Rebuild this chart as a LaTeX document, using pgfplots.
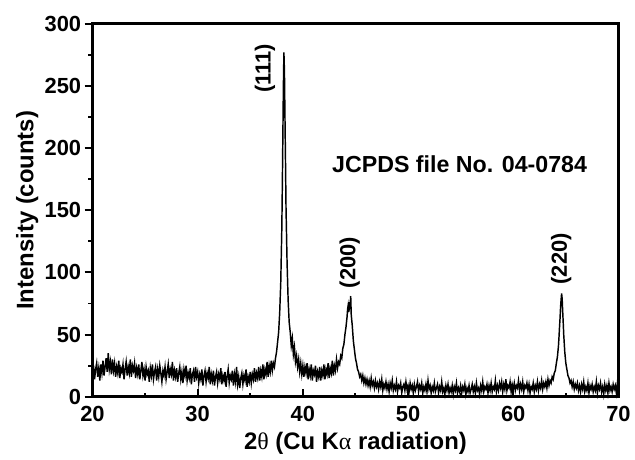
\documentclass[border=0pt]{standalone}
\usepackage{fontspec}
\setmainfont{Liberation Sans}
\newfontfamily\grk{Liberation Serif}
\usepackage{pgfplots}
\pgfplotsset{compat=1.18}

\begin{document}
\begin{tikzpicture}
\begin{axis}[
    scale only axis,
    width=396.75pt, height=281.25pt,
    xmin=20, xmax=70, ymin=0, ymax=300,
    xtick={20,30,...,70}, ytick={0,50,...,300},
    minor x tick num=1, minor y tick num=1,
    xtick pos=bottom, ytick pos=left,
    tick align=inside,
    major tick length=6pt, minor tick length=3pt,
    tick style={black, line width=1.5pt},
    major y tick style={xshift=-6pt},
    minor y tick style={xshift=-3pt},
    axis line style={line width=2.25pt},
    /pgf/number format/assume math mode=true,
    ticklabel style={font=\fontsize{16.5}{18}\selectfont\bfseries},
    yticklabel style={xshift=-5pt},
    xticklabel style={yshift=-4pt},
    xlabel={\bfseries 2{\grk\mdseries θ} (Cu K{\grk\mdseries α} radiation)},
    ylabel={\bfseries Intensity (counts)},
    label style={font=\fontsize{18}{20}\selectfont},
    xlabel style={yshift=-1pt},
    ylabel style={yshift=-2pt},
    clip=false,
]
\addplot[black, line width=1.1pt, mark=none] coordinates {
(20.0,18)(20.1,25)(20.2,14)(20.3,22)(20.4,27)(20.5,16)(20.6,23)(20.7,13)(20.8,26)(20.9,19)
(21.0,29)(21.1,17)(21.2,24)(21.3,31)(21.4,20)(21.5,35)(21.6,22)(21.7,28)(21.8,18)(21.9,30)
(22.0,21)(22.1,27)(22.2,16)(22.3,24)(22.4,19)(22.5,29)(22.6,15)(22.7,23)(22.8,20)(22.9,26)
(23.0,14)(23.1,22)(23.2,28)(23.3,17)(23.4,24)(23.5,19)(23.6,30)(23.7,16)(23.8,25)(23.9,21)
(24.0,27)(24.1,15)(24.2,23)(24.3,18)(24.4,26)(24.5,14)(24.6,21)(24.7,28)(24.8,17)(24.9,22)
(25.0,13)(25.1,24)(25.2,18)(25.3,21)(25.4,12)(25.5,23)(25.6,17)(25.7,26)(25.8,14)(25.9,20)
(26.0,24)(26.1,13)(26.2,22)(26.3,16)(26.4,25)(26.5,19)(26.6,12)(26.7,21)(26.8,17)(26.9,24)
(27.0,14)(27.1,20)(27.2,26)(27.3,15)(27.4,22)(27.5,18)(27.6,28)(27.7,13)(27.8,21)(27.9,16)
(28.0,23)(28.1,12)(28.2,19)(28.3,24)(28.4,14)(28.5,20)(28.6,11)(28.7,22)(28.8,17)(28.9,25)
(29.0,13)(29.1,19)(29.2,15)(29.3,23)(29.4,10)(29.5,18)(29.6,21)(29.7,12)(29.8,24)(29.9,16)
(30.0,20)(30.1,11)(30.2,18)(30.3,14)(30.4,22)(30.5,9)(30.6,17)(30.7,21)(30.8,12)(30.9,19)
(31.0,15)(31.1,24)(31.2,10)(31.3,18)(31.4,13)(31.5,21)(31.6,9)(31.7,16)(31.8,20)(31.9,11)
(32.0,18)(32.1,14)(32.2,23)(32.3,10)(32.4,17)(32.5,13)(32.6,20)(32.7,8)(32.8,16)(32.9,22)
(33.0,11)(33.1,17)(33.2,14)(33.3,21)(33.4,9)(33.5,18)(33.6,12)(33.7,24)(33.8,10)(33.9,16)
(34.0,7)(34.1,15)(34.2,19)(34.3,10)(34.4,17)(34.5,13)(34.6,22)(34.7,8)(34.8,16)(34.9,12)
(35.0,20)(35.1,11)(35.2,18)(35.3,14)(35.4,23)(35.5,12)(35.6,19)(35.7,15)(35.8,24)(35.9,13)
(36.0,21)(36.1,16)(36.2,26)(36.3,14)(36.4,22)(36.5,18)(36.6,28)(36.7,16)(36.8,25)(36.9,20)
(37.0,29)(37.1,21)(37.2,27)(37.3,24)(37.4,31)(37.5,36)(37.6,44)(37.7,52)(37.8,68)(37.9,92)
(38.0,135)(38.05,170)(38.1,210)(38.15,250)(38.2,277)(38.25,262)(38.3,225)(38.35,190)(38.4,152)
(38.5,108)(38.6,78)(38.7,60)(38.8,52)(38.9,41)(39.0,47)(39.1,34)(39.2,40)(39.3,28)(39.4,33)
(39.5,24)(39.6,30)(39.7,20)(39.8,27)(39.9,18)(40.0,25)(40.1,16)(40.2,24)(40.3,19)(40.4,27)
(40.5,14)(40.6,22)(40.7,17)(40.8,26)(40.9,13)(41.0,21)(41.1,18)(41.2,25)(41.3,12)(41.4,20)
(41.5,16)(41.6,24)(41.7,13)(41.8,21)(41.9,17)(42.0,26)(42.1,14)(42.2,22)(42.3,18)(42.4,27)
(42.5,15)(42.6,23)(42.7,19)(42.8,29)(42.9,17)(43.0,25)(43.1,21)(43.2,30)(43.3,23)(43.4,28)
(43.5,26)(43.6,33)(43.7,31)(43.8,39)(43.9,42)(44.0,50)(44.1,56)(44.2,64)(44.25,70)(44.3,73)
(44.35,68)(44.4,76)(44.45,72)(44.5,74)(44.55,81)(44.6,66)(44.7,57)(44.8,45)(44.9,38)
(45.0,31)(45.1,27)(45.2,22)(45.3,20)(45.4,16)(45.5,18)(45.6,13)(45.7,17)(45.8,11)(45.9,15)
(46.0,10)(46.1,14)(46.2,9)(46.3,13)(46.4,8)(46.5,15)(46.6,9)(46.7,12)(46.8,7)(46.9,13)
(47.0,8)(47.1,11)(47.2,6)(47.3,12)(47.4,8)(47.5,14)(47.6,5)(47.7,10)(47.8,7)(47.9,12)
(48.0,6)(48.1,10)(48.2,4)(48.3,11)(48.4,7)(48.5,13)(48.6,5)(48.7,9)(48.8,6)(48.9,12)
(49.0,4)(49.1,9)(49.2,7)(49.3,11)(49.4,3)(49.5,8)(49.6,10)(49.7,5)(49.8,12)(49.9,6)
(50.0,9)(50.1,4)(50.2,11)(50.3,6)(50.4,9)(50.5,3)(50.6,10)(50.7,5)(50.8,8)(50.9,12)
(51.0,4)(51.1,9)(51.2,6)(51.3,11)(51.4,3)(51.5,8)(51.6,5)(51.7,10)(51.8,4)(51.9,13)
(52.0,6)(52.1,9)(52.2,3)(52.3,8)(52.4,5)(52.5,11)(52.6,4)(52.7,7)(52.8,10)(52.9,3)
(53.0,8)(53.1,5)(53.2,12)(53.3,4)(53.4,7)(53.5,2)(53.6,9)(53.7,5)(53.8,10)(53.9,3)
(54.0,7)(54.1,4)(54.2,9)(54.3,2)(54.4,8)(54.5,5)(54.6,11)(54.7,3)(54.8,7)(54.9,4)
(55.0,9)(55.1,3)(55.2,8)(55.3,5)(55.4,10)(55.5,2)(55.6,7)(55.7,4)(55.8,9)(55.9,3)
(56.0,6)(56.1,10)(56.2,4)(56.3,8)(56.4,3)(56.5,11)(56.6,5)(56.7,7)(56.8,2)(56.9,9)
(57.0,5)(57.1,12)(57.2,4)(57.3,8)(57.4,6)(57.5,10)(57.6,3)(57.7,9)(57.8,5)(57.9,11)
(58.0,4)(58.1,8)(58.2,6)(58.3,13)(58.4,4)(58.5,9)(58.6,5)(58.7,11)(58.8,7)(58.9,12)
(59.0,4)(59.1,10)(59.2,6)(59.3,14)(59.4,5)(59.5,9)(59.6,7)(59.7,12)(59.8,4)(59.9,10)
(60.0,6)(60.1,11)(60.2,5)(60.3,9)(60.4,7)(60.5,13)(60.6,5)(60.7,10)(60.8,6)(60.9,12)
(61.0,4)(61.1,9)(61.2,7)(61.3,11)(61.4,5)(61.5,10)(61.6,3)(61.7,8)(61.8,6)(61.9,11)
(62.0,4)(62.1,9)(62.2,6)(62.3,12)(62.4,5)(62.5,10)(62.6,7)(62.7,13)(62.8,6)(62.9,11)
(63.0,8)(63.1,12)(63.2,7)(63.3,14)(63.4,9)(63.5,13)(63.6,11)(63.7,16)(63.8,14)(63.9,19)
(64.0,21)(64.1,27)(64.2,32)(64.3,41)(64.35,48)(64.4,56)(64.45,63)(64.5,72)(64.55,78)(64.6,83)
(64.65,79)(64.7,69)(64.75,60)(64.8,50)(64.85,43)(64.9,36)(65.0,27)(65.1,22)(65.2,17)(65.3,15)
(65.4,11)(65.5,13)(65.6,8)(65.7,12)(65.8,6)(65.9,10)(66.0,7)(66.1,11)(66.2,5)(66.3,9)
(66.4,4)(66.5,10)(66.6,6)(66.7,12)(66.8,4)(66.9,8)(67.0,5)(67.1,11)(67.2,3)(67.3,9)
(67.4,6)(67.5,10)(67.6,4)(67.7,8)(67.8,5)(67.9,12)(68.0,3)(68.1,9)(68.2,6)(68.3,11)
(68.4,4)(68.5,8)(68.6,2)(68.7,10)(68.8,5)(68.9,9)(69.0,3)(69.1,11)(69.2,5)(69.3,8)
(69.4,4)(69.5,10)(69.6,6)(69.7,9)(69.8,3)(69.9,11)(70.0,5)
};
\node[rotate=90, font=\fontsize{16.5}{18}\selectfont\bfseries] at (axis cs:36.4,264) {(111)};
\node[rotate=90, font=\fontsize{16.5}{18}\selectfont\bfseries] at (axis cs:44.45,108) {(200)};
\node[rotate=90, font=\fontsize{16.5}{18}\selectfont\bfseries] at (axis cs:64.55,111) {(220)};
\node[font=\fontsize{17.5}{19}\selectfont\bfseries] at (axis cs:54.9,187) {JCPDS file No. 04-0784};
\end{axis}
\path (current axis.south west) ++(-69.75pt,-43.5pt) rectangle ++(476.25pt,342.75pt);
\end{tikzpicture}
\end{document}
